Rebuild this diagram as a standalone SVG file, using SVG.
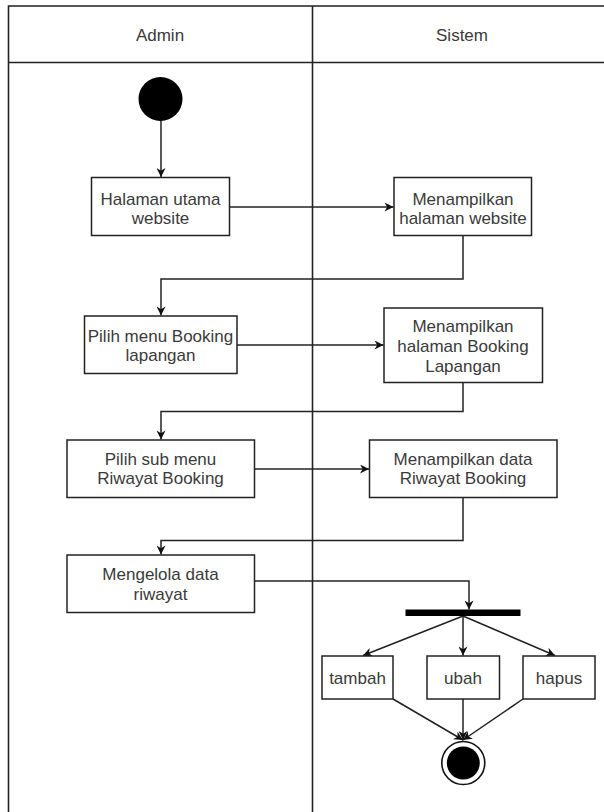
<svg xmlns="http://www.w3.org/2000/svg" width="604" height="812" viewBox="0 0 604 812">
<defs>
<marker id="arr" viewBox="0 0 10 10" refX="10" refY="5" markerWidth="10" markerHeight="9" markerUnits="userSpaceOnUse" orient="auto">
<path d="M0,0 L10,5 L0,10 L3,5 z" fill="#111"/>
</marker>
<style>
.lane{fill:none;stroke:#222;stroke-width:1.6}
.box{fill:#fff;stroke:#222;stroke-width:1.5}
.t{font-family:"Liberation Sans",Arial,sans-serif;font-size:17px;fill:#3a3a3a;text-anchor:middle}
.c{fill:none;stroke:#222;stroke-width:1.5;marker-end:url(#arr)}
</style>
</defs>
<rect width="604" height="812" fill="#fff"/>
<g id="pool">
<path class="lane" d="M8.5,812 V6 H610 M8.5,62.5 H610 M312.5,6 V812"/>
<text class="t" x="160" y="41">Admin</text>
<text class="t" x="462" y="41">Sistem</text>
</g>
<g id="connectors">
<path class="c" d="M161,121 V177"/>
<path class="c" d="M229.5,207 H393.5"/>
<path class="c" d="M463,236 V279 H161 V315.5"/>
<path class="c" d="M237,345 H383.5"/>
<path class="c" d="M463,383 V411.5 H161 V439.5"/>
<path class="c" d="M254.5,469 H369"/>
<path class="c" d="M463,498 V540.5 H161 V554.5"/>
<path class="c" d="M254.5,581 H469 V609.5"/>
<path class="c" d="M463,616 L363,655.5"/>
<path class="c" d="M463,616 V655.5"/>
<path class="c" d="M463,616 L555,655.5"/>
<path class="c" d="M393,699 L463,740"/>
<path class="c" d="M463,699 V740"/>
<path class="c" d="M523,699 L463,740"/>
</g>
<g id="start"><circle cx="160.5" cy="99" r="22" fill="#000"/></g>
<g id="n1"><rect class="box" x="91.5" y="177.5" width="138" height="58"/>
<text class="t" x="160.5" y="205">Halaman utama</text><text class="t" x="160.5" y="224">website</text></g>
<g id="n2"><rect class="box" x="394" y="177.5" width="137.5" height="58"/>
<text class="t" x="463" y="205">Menampilkan</text><text class="t" x="463" y="224">halaman website</text></g>
<g id="n3"><rect class="box" x="84.5" y="316" width="152.5" height="57.5"/>
<text class="t" x="160.5" y="341.5">Pilih menu Booking</text><text class="t" x="160.5" y="360.5">lapangan</text></g>
<g id="n4"><rect class="box" x="384" y="308" width="158.5" height="74.5"/>
<text class="t" x="463" y="331.5">Menampilkan</text><text class="t" x="463" y="351.5">halaman Booking</text><text class="t" x="463" y="371.5">Lapangan</text></g>
<g id="n5"><rect class="box" x="67" y="440" width="187.5" height="57.5"/>
<text class="t" x="160.5" y="464.5">Pilih sub menu</text><text class="t" x="160.5" y="483.5">Riwayat Booking</text></g>
<g id="n6"><rect class="box" x="369.5" y="440" width="187.5" height="57.5"/>
<text class="t" x="463" y="464.5">Menampilkan data</text><text class="t" x="463" y="484">Riwayat Booking</text></g>
<g id="n7"><rect class="box" x="67" y="555" width="187.5" height="57.5"/>
<text class="t" x="160.5" y="580">Mengelola data</text><text class="t" x="160.5" y="600">riwayat</text></g>
<g id="fork"><rect x="405.5" y="609.5" width="115" height="6.5" fill="#000"/></g>
<g id="tambah"><rect class="box" x="322" y="656" width="71" height="43"/><text class="t" x="357.5" y="684">tambah</text></g>
<g id="ubah"><rect class="box" x="427" y="656" width="72.5" height="43"/><text class="t" x="463" y="684">ubah</text></g>
<g id="hapus"><rect class="box" x="523" y="656" width="72" height="43"/><text class="t" x="559" y="684">hapus</text></g>
<g id="end"><circle cx="463.3" cy="763" r="21.5" fill="#fff" stroke="#111" stroke-width="1.6"/><circle cx="463.3" cy="763" r="16.5" fill="#000"/></g>
</svg>
